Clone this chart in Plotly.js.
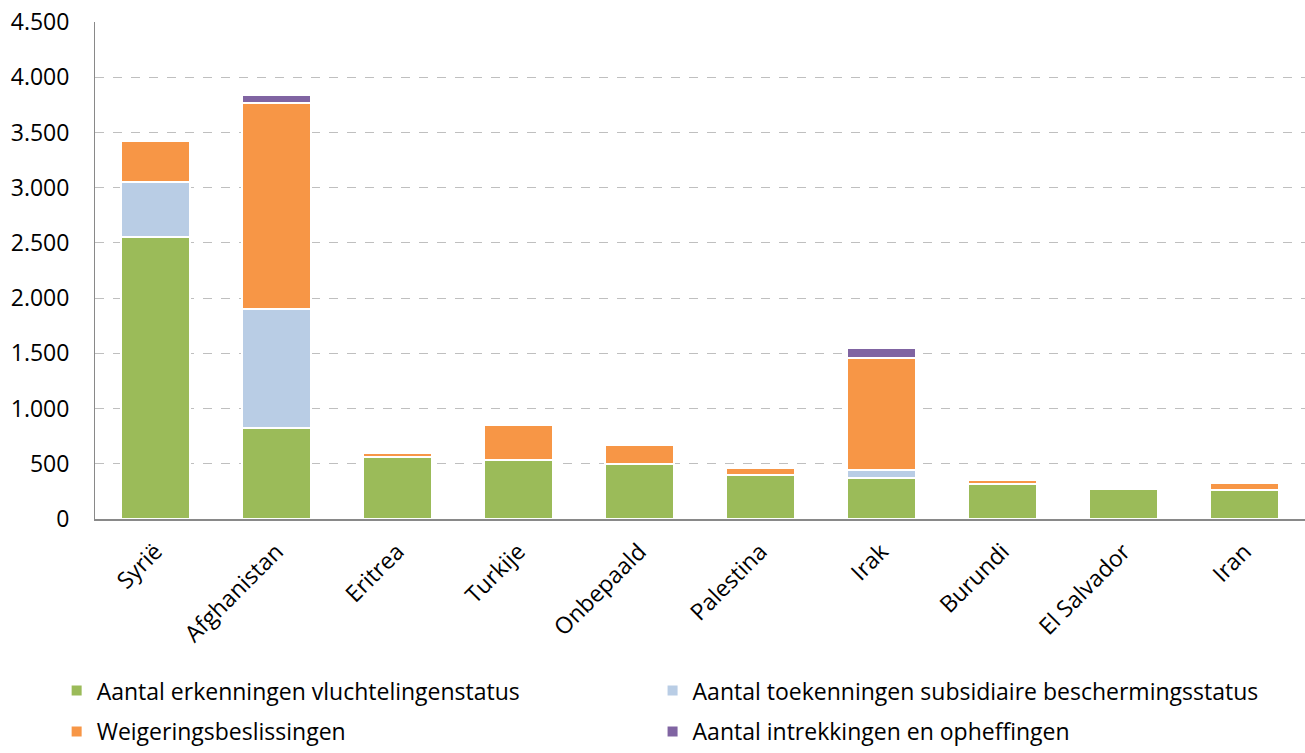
<!DOCTYPE html>
<html>
<head>
<meta charset="utf-8">
<script src="https://cdn.plot.ly/plotly-3.0.1.min.js"></script>
<style>html,body{margin:0;padding:0;background:#fff;}#chart{width:1305px;height:753px;}</style>
</head>
<body>
<div id="chart"></div>
<script>
const categories = ["Syrië","Afghanistan","Eritrea","Turkije","Onbepaald","Palestina","Irak","Burundi","El Salvador","Iran"];
const erkenningen = [2550, 820, 560, 530, 495, 400, 370, 320, 270, 260];
const subsidiair = [505, 1085, 0, 0, 0, 0, 75, 0, 0, 0];
const weigering = [372, 1865, 40, 325, 175, 62, 1015, 30, 0, 70];
const intrekking = [0, 65, 0, 0, 0, 0, 88, 0, 0, 0];
const seriesNames = ["Aantal erkenningen vluchtelingenstatus","Aantal toekenningen subsidiaire beschermingsstatus","Weigeringsbeslissingen","Aantal intrekkingen en opheffingen"];
const seriesColors = ["#9BBB59","#B9CDE5","#F79646","#8064A2"];
const seriesValues = [erkenningen, subsidiair, weigering, intrekking];
const seriesLegend = ["legend","legend2","legend3","legend4"];
const yTicks = [0,500,1000,1500,2000,2500,3000,3500,4000,4500];

const traces = seriesValues.map((vals, i) => ({
  type: "bar",
  name: seriesNames[i],
  x: categories,
  y: vals,
  legend: seriesLegend[i],
  marker: {color: seriesColors[i], line: {color: "#ffffff", width: 2}},
  hoverinfo: "x+y+name"
}));

const font = "'Open Sans', sans-serif";
const legendBase = {
  orientation: "h",
  xanchor: "left",
  font: {family: font, size: 23, color: "#000000"},
  itemwidth: 30
};
const col1 = -0.0317, col2 = 0.4608;
const layout = {
  barmode: "stack",
  bargap: 0.43,
  separators: ",.",
  width: 1305, height: 753,
  margin: {l: 95, r: 0, t: 22, b: 234, autoexpand: false},
  paper_bgcolor: "#ffffff",
  plot_bgcolor: "#ffffff",
  font: {family: font, size: 23, color: "#000000"},
  xaxis: {
    tickangle: -45,
    showline: true, linecolor: "#898989", linewidth: 2,
    ticks: "", showgrid: false,
    ticklabelstandoff: 8,
    tickfont: {family: font, size: 23, color: "#000000"}
  },
  yaxis: {
    range: [0, 4500],
    tickvals: yTicks,
    tickformat: ",d",
    showline: true, linecolor: "#898989", linewidth: 1,
    ticks: "",
    ticklabelstandoff: 20,
    showgrid: true, gridcolor: "#BFBFBF", griddash: "dash", gridwidth: 1,
    zeroline: false,
    tickfont: {family: font, size: 23, color: "#000000"}
  },
  showlegend: true,
  legend: Object.assign({}, legendBase, {x: col1, y: -0.302, yanchor: "top"}),
  legend2: Object.assign({}, legendBase, {x: col2, y: -0.302, yanchor: "top"}),
  legend3: Object.assign({}, legendBase, {x: col1, y: -0.4708, yanchor: "bottom"}),
  legend4: Object.assign({}, legendBase, {x: col2, y: -0.4708, yanchor: "bottom"})
};

Plotly.newPlot("chart", traces, layout, {displayModeBar: false, staticPlot: true});
</script>
</body>
</html>
